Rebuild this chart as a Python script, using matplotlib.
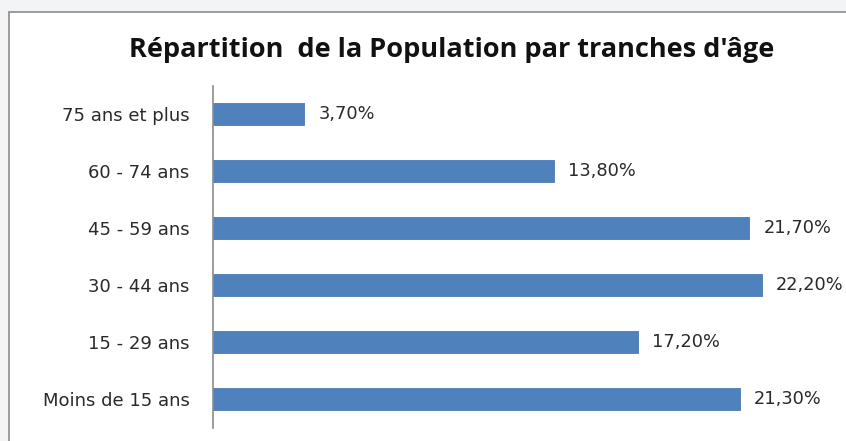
import matplotlib.pyplot as plt
from matplotlib.patches import Rectangle

# données
tranches = ['Moins de 15 ans', '15 - 29 ans', '30 - 44 ans', '45 - 59 ans', '60 - 74 ans', '75 ans et plus']
valeurs = [21.3, 17.2, 22.2, 21.7, 13.8, 3.7]
etiquettes = ['21,30%', '17,20%', '22,20%', '21,70%', '13,80%', '3,70%']

plt.rcParams['font.family'] = ['DejaVu Sans']

fig = plt.figure(figsize=(8.46, 4.41), dpi=100)
fig.patch.set_facecolor('#f3f4f6')

# cadre du graphique
cadre = Rectangle((9/846, -0.05), 1.0, 1 - 12/441 + 0.05, transform=fig.transFigure,
                  facecolor='white', edgecolor='#8c8c8c', linewidth=1.2, zorder=-1)
fig.patches.append(cadre)

ax = fig.add_axes([213/846, 1 - 427.5/441, (831 - 213)/846, (427.5 - 85.5)/441])
ax.set_facecolor('none')
ax.set_zorder(2)

y = range(len(tranches))
ax.barh(y, valeurs, height=0.39, color='#4f81bd', edgecolor='#4a7ab5', linewidth=0.6)

for i, (v, t) in enumerate(zip(valeurs, etiquettes)):
    ax.annotate(t, (v, i), xytext=(10, 0), textcoords='offset points',
                va='center', ha='left', fontsize=12.8, color='#2a2a2a')

ax.set_xlim(0, 25)
ax.set_ylim(-0.5, 5.5)
ax.set_yticks(list(y))
ax.set_yticklabels(tranches, fontsize=13, color='#2a2a2a')
ax.tick_params(axis='y', length=0, pad=17)
ax.set_xticks([])
for s in ['top', 'right', 'bottom']:
    ax.spines[s].set_visible(False)
ax.spines['left'].set_color('#8c8c8c')
ax.spines['left'].set_linewidth(1.2)

fig.text(452/846, 1 - 50/441, "Répartition  de la Population par tranches d'âge",
         ha='center', va='center', fontsize=19.5, fontweight='bold', color='#111111',
         family=['Open Sans', 'DejaVu Sans'])

fig.savefig('out.png', dpi=100, facecolor=fig.get_facecolor())
